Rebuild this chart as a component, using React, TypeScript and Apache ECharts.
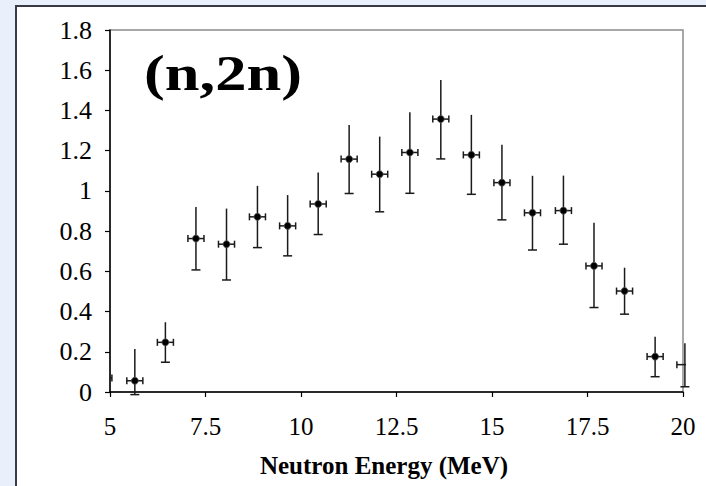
import React, { useEffect, useRef } from "react";
import * as echarts from "echarts";

// Neutron energy (MeV) of each measured point
const energies = [4.84, 5.65, 6.45, 7.25, 8.05, 8.86, 9.65, 10.45, 11.26, 12.06, 12.85, 13.66, 14.46, 15.26, 16.06, 16.87, 17.67, 18.47, 19.27, 20.05];
// Measured (n,2n) values
const crossSections = [0.07, 0.056, 0.247, 0.763, 0.735, 0.871, 0.826, 0.935, 1.158, 1.083, 1.191, 1.357, 1.179, 1.041, 0.891, 0.902, 0.627, 0.502, 0.176, 0.136];
// Lower / upper ends of the vertical error bars
const errLow = [-0.01, -0.013, 0.148, 0.607, 0.557, 0.718, 0.677, 0.783, 0.987, 0.896, 0.988, 1.159, 0.983, 0.856, 0.706, 0.735, 0.42, 0.387, 0.076, 0.026];
const errHigh = [0.15, 0.214, 0.347, 0.92, 0.912, 1.025, 0.979, 1.091, 1.328, 1.27, 1.391, 1.552, 1.378, 1.23, 1.075, 1.076, 0.842, 0.618, 0.275, 0.242];
// Half-width of the horizontal (energy) error bars
const energyHalfWidth = [0.21, 0.21, 0.21, 0.21, 0.21, 0.21, 0.21, 0.21, 0.21, 0.21, 0.21, 0.21, 0.21, 0.21, 0.21, 0.21, 0.21, 0.21, 0.21, 0.21];

const xMin = 5;
const xMax = 20;
const xInterval = 2.5;
const yMin = 0;
const yMax = 1.8;
const yInterval = 0.2;

const titleText = "(n,2n)";
const xAxisName = "Neutron Energy (MeV)";

const FONT = "Liberation Serif";

export default function App() {
  const ref = useRef<HTMLDivElement>(null);

  useEffect(() => {
    document.body.style.margin = "0";
    if (!ref.current) return;
    const chart = echarts.init(ref.current, null, { renderer: "svg" });

    const errData = energies.map((e, i) => [e, crossSections[i], errLow[i], errHigh[i], energyHalfWidth[i]]);
    const pointData = energies.map((e, i) => [e, crossSections[i]]);

    const lineStyle = { stroke: "#1a1a1a", lineWidth: 1.5 };

    const option: any = {
      animation: false,
      backgroundColor: "#eaeffc",
      textStyle: { fontFamily: FONT },
      graphic: [
        {
          type: "rect",
          z: -10,
          shape: { x: 16, y: 6, width: 720, height: 520 },
          style: { fill: "#ffffff", stroke: "#3a3a46", lineWidth: 2 },
          silent: true,
        },
        {
          type: "text",
          x: 144,
          y: 73,
          scaleX: 1.25,
          z: 10,
          style: {
            text: titleText,
            fontFamily: FONT,
            fontWeight: "bold",
            fontSize: 50,
            fill: "#000",
            align: "left",
            verticalAlign: "middle",
          },
          silent: true,
        },
      ],
      grid: {
        left: 110,
        right: 23,
        top: 30,
        bottom: 94,
        show: true,
        backgroundColor: "#ffffff",
        borderColor: "#8c8c8c",
        borderWidth: 1.5,
      },
      xAxis: {
        type: "value",
        min: xMin,
        max: xMax,
        interval: xInterval,
        name: xAxisName,
        nameLocation: "middle",
        nameGap: 61,
        nameTextStyle: {
          fontFamily: FONT,
          fontWeight: "bold",
          fontSize: 25,
          color: "#000",
          padding: [0, 25, 0, 0],
        },
        axisLine: { show: true, onZero: false, lineStyle: { color: "#000", width: 1.5 } },
        axisTick: { show: true, inside: false, length: 5, lineStyle: { color: "#000", width: 1.2 } },
        axisLabel: { fontFamily: FONT, fontSize: 25, color: "#000", margin: 22 },
        splitLine: { show: false },
      },
      yAxis: {
        type: "value",
        min: yMin,
        max: yMax,
        interval: yInterval,
        axisLine: { show: true, onZero: false, lineStyle: { color: "#000", width: 1.5 } },
        axisTick: { show: true, inside: false, length: 5, lineStyle: { color: "#000", width: 1.2 } },
        axisLabel: { fontFamily: FONT, fontSize: 26, color: "#000", margin: 18 },
        splitLine: { show: false },
      },
      series: [
        {
          type: "custom",
          clip: false,
          silent: true,
          z: 3,
          data: errData,
          renderItem: (params: any, api: any) => {
            const x = api.value(0);
            const y = api.value(1);
            const lo = api.value(2);
            const hi = api.value(3);
            const dx = api.value(4);
            const c = api.coord([x, y]);
            const cLo = api.coord([x, lo]);
            const cHi = api.coord([x, hi]);
            const cL = api.coord([x - dx, y]);
            const cR = api.coord([x + dx, y]);
            const cs = params.coordSys;
            const left = cs.x;
            const right = cs.x + cs.width + 3;
            const top = cs.y;
            const bottom = cs.y + cs.height + 3;
            const clampY = (v: number) => Math.max(top, Math.min(bottom, v));
            const clampX = (v: number) => Math.max(left, Math.min(right, v));
            const inX = (v: number) => v >= left && v <= right;
            const children: any[] = [];
            if (inX(c[0])) {
              children.push({
                type: "line",
                shape: { x1: c[0], y1: clampY(cLo[1]), x2: c[0], y2: clampY(cHi[1]) },
                style: lineStyle,
              });
              if (cLo[1] <= bottom) {
                children.push({
                  type: "line",
                  shape: { x1: c[0] - 4.5, y1: cLo[1], x2: c[0] + 4.5, y2: cLo[1] },
                  style: lineStyle,
                });
              }
            }
            const hx1 = clampX(cL[0]);
            const hx2 = clampX(cR[0]);
            if (hx2 > hx1) {
              children.push({
                type: "line",
                shape: { x1: hx1, y1: c[1], x2: hx2, y2: c[1] },
                style: lineStyle,
              });
            }
            if (inX(cL[0])) {
              children.push({
                type: "line",
                shape: { x1: cL[0], y1: c[1] - 3.5, x2: cL[0], y2: c[1] + 3.5 },
                style: lineStyle,
              });
            }
            if (inX(cR[0])) {
              children.push({
                type: "line",
                shape: { x1: cR[0], y1: c[1] - 3.5, x2: cR[0], y2: c[1] + 3.5 },
                style: lineStyle,
              });
            }
            return { type: "group", children };
          },
        },
        {
          type: "scatter",
          clip: true,
          silent: true,
          z: 4,
          data: pointData,
          symbol: "circle",
          symbolSize: 7,
          itemStyle: { color: "#000", borderColor: "#555", borderWidth: 0.8, opacity: 1 },
        },
      ],
    };

    chart.setOption(option);
    return () => chart.dispose();
  }, []);

  return <div ref={ref} style={{ width: 706, height: 486 }} />;
}
